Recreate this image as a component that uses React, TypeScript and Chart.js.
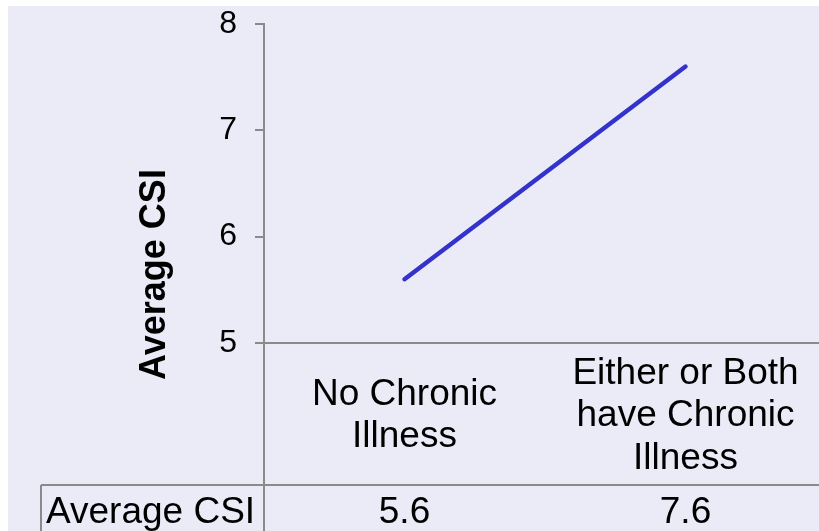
import React, { useEffect, useRef } from "react";
import { Chart, registerables } from "chart.js";

Chart.register(...registerables);

const categories: string[][] = [
  ["No Chronic", "Illness"],
  ["Either or Both", "have Chronic", "Illness"],
];
const seriesName = "Average CSI";
const values: number[] = [5.6, 7.6];
const yTickValues: number[] = [5, 6, 7, 8];
const tableRowLabel = "Average CSI";
const yTitle = "Average CSI";

const FONT = "'Liberation Sans', Arial, Helvetica, sans-serif";
const W = 820;
const H = 525;
const GRAY = "#8a8a8a";

export default function App() {
  const ref = useRef<HTMLCanvasElement | null>(null);

  useEffect(() => {
    const canvas = ref.current;
    if (!canvas) return;

    const tablePlugin = {
      id: "dataTable",
      afterDraw(chart: any) {
        const { ctx, chartArea } = chart;
        const xs = chart.scales.x;
        const tableTop = 479;
        const tableLeft = 33;
        ctx.save();
        ctx.strokeStyle = GRAY;
        ctx.lineWidth = 2;
        ctx.beginPath();
        ctx.moveTo(chartArea.left, chartArea.bottom);
        ctx.lineTo(chartArea.left, H);
        ctx.moveTo(tableLeft, tableTop);
        ctx.lineTo(W, tableTop);
        ctx.moveTo(tableLeft, tableTop);
        ctx.lineTo(tableLeft, H);
        ctx.stroke();

        ctx.fillStyle = "#000";
        ctx.font = `37px ${FONT}`;
        ctx.textBaseline = "alphabetic";
        ctx.textAlign = "left";
        ctx.fillText(tableRowLabel, 38, 517);
        ctx.textAlign = "center";
        values.forEach((v, i) => {
          ctx.fillText(v.toFixed(1), xs.getPixelForValue(i), 517);
        });

        ctx.translate(147, 268.5);
        ctx.rotate(-Math.PI / 2);
        ctx.font = `bold 36px ${FONT}`;
        ctx.textBaseline = "middle";
        ctx.textAlign = "center";
        ctx.fillText(yTitle, 0, 0);
        ctx.restore();
      },
    };

    const chart = new Chart(canvas, {
      type: "line",
      data: {
        labels: categories as any,
        datasets: [
          {
            label: seriesName,
            data: values,
            borderColor: "#3333cc",
            borderWidth: 4.5,
            borderCapStyle: "round",
            pointRadius: 0,
            pointHoverRadius: 0,
            tension: 0,
          },
        ],
      },
      options: {
        responsive: false,
        animation: false,
        devicePixelRatio: 1,
        layout: { padding: { left: 129, top: 18, right: 2, bottom: 0 } },
        plugins: {
          legend: { display: false },
          tooltip: { enabled: false },
        },
        scales: {
          x: {
            type: "category",
            offset: true,
            grid: { display: false, drawTicks: false },
            border: { display: true, color: GRAY, width: 2 },
            ticks: {
              color: "#000",
              font: { family: FONT, size: 37, lineHeight: 1.14 },
              padding: 31,
              maxRotation: 0,
              minRotation: 0,
              autoSkip: false,
              crossAlign: "center",
            },
            afterFit(scale: any) {
              scale.height = 188;
              scale.paddingLeft = 0;
              scale.paddingRight = 0;
            },
          },
          y: {
            min: 5,
            max: 8,
            afterBuildTicks(scale: any) {
              scale.ticks = yTickValues.map((v) => ({ value: v }));
            },
            grid: {
              drawOnChartArea: false,
              drawTicks: true,
              tickLength: 9,
              color: GRAY,
              lineWidth: 2,
            },
            border: { display: true, color: GRAY, width: 2 },
            ticks: {
              color: "#000",
              font: { family: FONT, size: 32 },
              padding: 18,
            },
            afterFit(scale: any) {
              scale.width = 127;
              scale.paddingTop = 0;
              scale.paddingBottom = 0;
            },
          },
        },
      },
      plugins: [tablePlugin],
    });

    return () => {
      chart.destroy();
    };
  }, []);

  return (
    <div
      style={{
        position: "fixed",
        left: 8,
        top: 6,
        width: 811,
        height: 525,
        overflow: "hidden",
        background: "#ebebf7",
      }}
    >
      <canvas ref={ref} width={W} height={H} style={{ display: "block", width: W, height: H }} />
    </div>
  );
}
